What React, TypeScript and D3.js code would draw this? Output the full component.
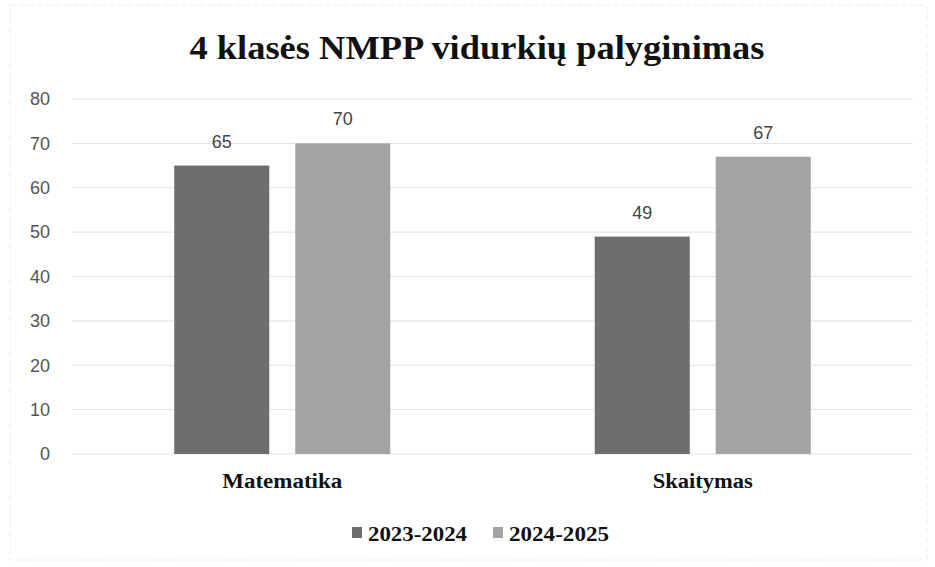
import React from "react";
import * as d3 from "d3";

const categories = ["Matematika", "Skaitymas"];
const seriesNames = ["2023-2024", "2024-2025"];
const values2023 = [65, 49];
const values2024 = [70, 67];
const yTicks = [0, 10, 20, 30, 40, 50, 60, 70, 80];
const title = "4 klasės NMPP vidurkių palyginimas";

const W = 935;
const H = 567;
const colors = ["#6d6d6d", "#a3a3a3"];

export default function App() {
  const left = 72;
  const right = 913;
  const top = 99;
  const bottom = 454;
  const y = d3.scaleLinear().domain([0, 80]).range([bottom, top]);
  const x0 = d3.scaleBand().domain(categories).range([left, right]);
  const barW = 95;
  const gap = 26;
  const series = [values2023, values2024];
  const serif = "'Liberation Serif', 'Times New Roman', serif";
  const sans = "'Liberation Sans', Arial, sans-serif";
  const catLen = [120, 100];
  const legLen = [99, 100];

  return (
    <svg width={W} height={H} style={{ position: "absolute", left: 0, top: 0, background: "#fff" }}>
      <rect x={10} y={5} width={W - 18} height={H - 12} fill="#fff" stroke="#ececec" strokeWidth={1} strokeDasharray="6 3" />
      <text x={477} y={59} textAnchor="middle" fontFamily={serif} fontWeight="bold" fontSize={33} fill="#111" textLength={575} lengthAdjust="spacingAndGlyphs">
        {title}
      </text>
      {yTicks.map((t) => (
        <g key={t}>
          <line x1={left} x2={right} y1={y(t)} y2={y(t)} stroke="#e2e2e2" strokeWidth={1} />
          <text x={50} y={y(t)} dy="0.35em" textAnchor="end" fontFamily={sans} fontSize={18} fill="#555">
            {t}
          </text>
        </g>
      ))}
      {categories.map((c, ci) => {
        const cx = x0(c)! + x0.bandwidth() / 2;
        return (
          <g key={c}>
            {series.map((vals, si) => {
              const bx = si === 0 ? cx - gap / 2 - barW : cx + gap / 2;
              const v = vals[ci];
              return (
                <g key={si}>
                  <rect x={bx} y={y(v)} width={barW} height={bottom - y(v)} fill={colors[si]} />
                  <text x={bx + barW / 2} y={y(v) - 18} textAnchor="middle" fontFamily={sans} fontSize={18} fill="#444">
                    {v}
                  </text>
                </g>
              );
            })}
            <text x={cx} y={488} textAnchor="middle" fontFamily={serif} fontWeight="bold" fontSize={20} fill="#111" textLength={catLen[ci]} lengthAdjust="spacingAndGlyphs">
              {c}
            </text>
          </g>
        );
      })}
      {seriesNames.map((s, i) => {
        const lx = i === 0 ? 352 : 493;
        return (
          <g key={s}>
            <rect x={lx} y={527} width={10} height={11} fill={colors[i]} />
            <text x={lx + 16} y={541} fontFamily={serif} fontWeight="bold" fontSize={22} fill="#111" textLength={legLen[i]} lengthAdjust="spacingAndGlyphs">
              {s}
            </text>
          </g>
        );
      })}
    </svg>
  );
}
